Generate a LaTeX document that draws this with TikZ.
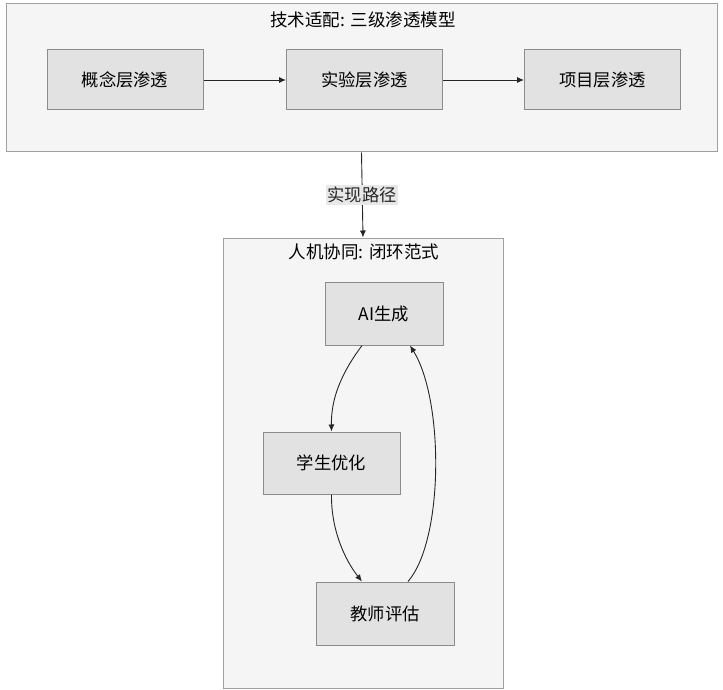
\documentclass[tikz,border=0pt]{standalone}
\usepackage{fontspec}
\setmainfont{Noto Sans CJK SC}
\usetikzlibrary{arrows.meta,calc}
\definecolor{boxfill}{HTML}{E2E2E2}
\definecolor{boxline}{HTML}{8C8C8C}
\definecolor{groupfill}{HTML}{F5F5F5}
\definecolor{groupline}{HTML}{A0A0A0}
\tikzset{
	group/.style={draw=groupline, fill=groupfill, line width=1pt, inner sep=0pt},
	stage/.style={draw=boxline, fill=boxfill, line width=1pt, font=\fontsize{17.3}{20}\selectfont, inner sep=0pt},
	title/.style={font=\fontsize{17.5}{20}\selectfont, inner sep=1pt},
	flow/.style={-{Latex[length=7pt,width=6pt]}, line width=0.9pt, black!85}
}

\begin{document}
\begin{tikzpicture}[x=1pt, y=-1pt]
				%%%%% START %%%%%
				\useasboundingbox (0, 0) rectangle (723, 690);
				
				% top group
				\node[group, minimum width=711, minimum height=148] (model) at (361.5, 78) {};
				\node[title] (modeltitle) at (363, 20) {技术适配: 三级渗透模型};
				
				\node[stage, minimum width=156, minimum height=60] (concept) at (125, 80) {概念层渗透};
				\node[stage, minimum width=156, minimum height=60] (lab) at (364.5, 80) {实验层渗透};
				\node[stage, minimum width=156, minimum height=60] (project) at (602.5, 80) {项目层渗透};
				
				\draw[flow] (concept) -- (lab);
				\draw[flow] (lab) -- (project);
				
				% bottom group
				\node[group, minimum width=280, minimum height=450] (loop) at (363, 463) {};
				\node[title] (looptitle) at (364, 252) {人机协同: 闭环范式};
				
				\node[stage, minimum width=118, minimum height=63] (ai) at (384, 313.5) {AI生成};
				\node[stage, minimum width=137, minimum height=62] (student) at (331.5, 463) {学生优化};
				\node[stage, minimum width=138, minimum height=63] (teacher) at (385, 613.5) {教师评估};
				
				% path between groups
				\draw[flow] (model.south) -- (loop.north)
					node[midway, fill=black!9, inner sep=1.5pt, font=\fontsize{17.3}{20}\selectfont] (pathlabel) {实现路径};
				
				% closed loop
				\draw[flow] ([xshift=-22pt]ai.south) .. controls (340, 375) and (331, 400) .. (student.north);
				\draw[flow] (student.south) .. controls (331, 530) and (345, 560) .. ([xshift=-23pt]teacher.north);
				\draw[flow] ([xshift=23pt]teacher.north) .. controls (444, 540) and (444, 400) .. ([xshift=26pt]ai.south);
				%%%%% END %%%%%
\end{tikzpicture}
\end{document}
